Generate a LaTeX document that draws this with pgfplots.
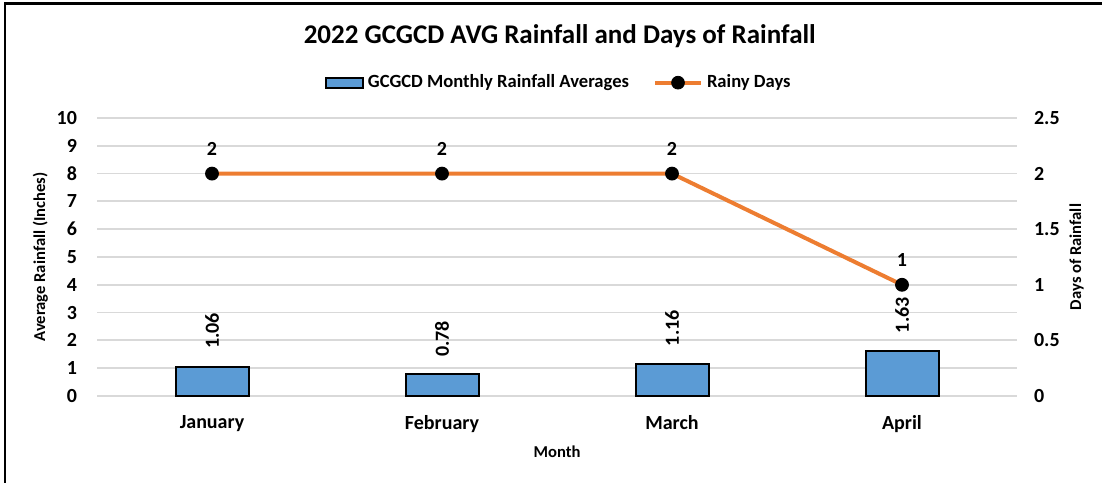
\documentclass[border=0pt]{standalone}
\usepackage{pgfplots}
\pgfplotsset{compat=1.18}
\usepackage{fontspec}
\setmainfont{Carlito}
\definecolor{barblue}{HTML}{5B9BD5}
\definecolor{lineor}{HTML}{ED7D31}
\definecolor{gridg}{HTML}{D9D9D9}
\begin{document}
\begin{tikzpicture}[font=\bfseries]
\useasboundingbox (0,0) rectangle (551pt,241pt);
\draw[line width=1.2pt] (2.5pt,-2pt) -- (2.5pt,239.3pt) -- (553pt,239.3pt);
\begin{axis}[
  at={(48.5pt,43pt)}, anchor=south west, scale only axis,
  width=460pt, height=139pt,
  xmin=-0.5, xmax=3.5, ymin=0, ymax=10, ytick={0,1,...,10},
  xtick={0,1,2,3}, xticklabels={January,February,March,April},
  axis line style={draw=none}, major tick length=0pt,
  ymajorgrids, grid style={gridg, line width=0.9pt},
  /pgf/number format/assume math mode=true,
  ticklabel style={font=\fontsize{10}{12}\bfseries\selectfont},
  yticklabel style={xshift=-6.5pt},
  xticklabel style={yshift=-6pt},
  ylabel={Average Rainfall (Inches)},
  ylabel style={font=\fontsize{8.3}{10}\bfseries\selectfont, yshift=-2.5pt},
  xlabel={Month},
  xlabel style={font=\fontsize{8.3}{10}\bfseries\selectfont, yshift=0pt},
  title={2022 GCGCD AVG Rainfall and Days of Rainfall},
  title style={font=\fontsize{13.5}{16}\bfseries\selectfont, at={(0.503,1.252)}, anchor=center, yshift=0pt},
  legend columns=2,
  legend style={at={(0.503,1.127)}, anchor=center, draw=none, fill=none,
    font=\fontsize{9.3}{11}\bfseries\selectfont,
    /tikz/every even column/.append style={column sep=10pt}},
]
\addplot[ybar, bar width=36.5pt, fill=barblue, draw=black, line width=1pt,
  point meta=explicit symbolic, nodes near coords={\pgfplotspointmeta},
  every node near coord/.append style={rotate=90, anchor=west, xshift=5pt,
    font=\fontsize{10}{12}\bfseries\selectfont, text=black},
  legend image code/.code={\draw[fill=barblue, draw=black, line width=1pt] (0pt,-2.5pt) rectangle (18.5pt,2.5pt);}]
  coordinates {(0,1.06)[1.06] (1,0.78)[0.78] (2,1.16)[1.16] (3,1.63)[1.63]};
\addlegendentry{GCGCD Monthly Rainfall Averages}
\addlegendimage{legend image code/.code={
  \draw[lineor, line width=2pt] (0pt,0pt) -- (23pt,0pt);
  \fill[black] (11.5pt,0pt) circle (3.2pt);}}
\addlegendentry{Rainy Days}
\end{axis}
\begin{axis}[
  at={(48.5pt,43pt)}, anchor=south west, scale only axis,
  width=460pt, height=139pt,
  xmin=-0.5, xmax=3.5, ymin=0, ymax=2.5, ytick={0,0.5,...,2.5},
  axis y line*=right, axis x line=none,
  axis line style={draw=none}, major tick length=0pt,
  /pgf/number format/assume math mode=true,
  ticklabel style={font=\fontsize{10}{12}\bfseries\selectfont},
  yticklabel style={xshift=5pt},
  ylabel={Days of Rainfall},
  ylabel style={font=\fontsize{8.3}{10}\bfseries\selectfont, yshift=2pt},
]
\addplot[lineor, line width=2pt, mark=*, mark size=3.2pt,
  mark options={fill=black, draw=black, line width=0.5pt},
  point meta=explicit symbolic, nodes near coords={\pgfplotspointmeta},
  every node near coord/.append style={anchor=south, yshift=5.5pt,
    font=\fontsize{10}{12}\bfseries\selectfont, text=black}]
  coordinates {(0,2)[2] (1,2)[2] (2,2)[2] (3,1)[1]};
\end{axis}
\end{tikzpicture}
\end{document}
